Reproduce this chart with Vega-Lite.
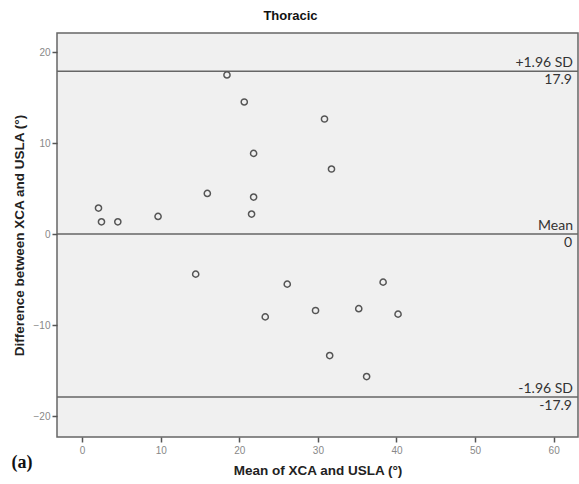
{
  "$schema": "https://vega.github.io/schema/vega-lite/v6.json",
  "width": 521,
  "height": 404,
  "autosize": {"type": "none"},
  "padding": {"left": 57, "top": 33, "right": 1, "bottom": 47},
  "background": "white",
  "config": {
    "view": {"stroke": "#666666", "strokeWidth": 1.5, "fill": "#f0f0f0"},
    "font": "Liberation Sans"
  },
  "title": {
    "text": "Thoracic",
    "anchor": "middle",
    "dx": -27,
    "offset": 10,
    "fontSize": 13,
    "fontWeight": "bold",
    "font": "Liberation Sans",
    "color": "#111111"
  },
  "datasets": {
    "points": [
      {"mean": 2.08, "diff": 2.86},
      {"mean": 2.46, "diff": 1.35},
      {"mean": 4.54, "diff": 1.35},
      {"mean": 9.66, "diff": 1.94},
      {"mean": 15.93, "diff": 4.47},
      {"mean": 18.43, "diff": 17.49},
      {"mean": 20.63, "diff": 14.52},
      {"mean": 21.82, "diff": 8.87},
      {"mean": 21.82, "diff": 4.07},
      {"mean": 21.56, "diff": 2.2},
      {"mean": 30.84, "diff": 12.65},
      {"mean": 31.73, "diff": 7.15},
      {"mean": 14.45, "diff": -4.4},
      {"mean": 26.1, "diff": -5.5},
      {"mean": 23.3, "diff": -9.1},
      {"mean": 38.3, "diff": -5.28},
      {"mean": 29.7, "diff": -8.4},
      {"mean": 35.2, "diff": -8.2},
      {"mean": 40.2, "diff": -8.8},
      {"mean": 31.5, "diff": -13.35},
      {"mean": 36.2, "diff": -15.66}
    ],
    "lines": [
      {"value": 17.9, "name": "+1.96 SD", "valueLabel": "17.9"},
      {"value": 0, "name": "Mean", "valueLabel": "0"},
      {"value": -17.9, "name": "-1.96 SD", "valueLabel": "-17.9"}
    ]
  },
  "layer": [
    {
      "data": {"name": "lines"},
      "mark": {"type": "rule", "stroke": "#666666", "strokeWidth": 1.5},
      "encoding": {
        "y": {"field": "value", "type": "quantitative", "scale": {"domain": [-22.3, 22.1], "nice": false, "zero": false}}
      }
    },
    {
      "data": {"name": "points"},
      "mark": {"type": "point", "shape": "circle", "filled": false, "stroke": "#555555", "strokeWidth": 1.5, "size": 38, "opacity": 1},
      "encoding": {
        "x": {
          "field": "mean", "type": "quantitative",
          "scale": {"domain": [-3.2, 63.1], "nice": false, "zero": false},
          "axis": {
            "title": "Mean of XCA and USLA (°)",
            "values": [0, 10, 20, 30, 40, 50, 60],
            "domain": false, "grid": false,
            "tickSize": 5, "tickColor": "#555555", "tickWidth": 1.5,
            "labelColor": "#888888", "labelFontSize": 10, "labelPadding": 3,
            "titleFontSize": 13.5, "titleFontWeight": "bold", "titleColor": "#222222",
            "titlePadding": 8
          }
        },
        "y": {
          "field": "diff", "type": "quantitative",
          "scale": {"domain": [-22.3, 22.1], "nice": false, "zero": false},
          "axis": {
            "title": "Difference between XCA and USLA (°)",
            "values": [-20, -10, 0, 10, 20],
            "domain": false, "grid": false,
            "tickSize": 5, "tickColor": "#555555", "tickWidth": 1.5,
            "labelColor": "#888888", "labelFontSize": 10, "labelPadding": 2,
            "titleFontSize": 13.5, "titleFontWeight": "bold", "titleColor": "#222222",
            "titlePadding": 7
          }
        }
      }
    },
    {
      "data": {"name": "lines"},
      "mark": {"type": "text", "align": "right", "baseline": "alphabetic", "dx": -5, "dy": -4, "font": "Lato", "fontSize": 14, "color": "#333333"},
      "encoding": {
        "x": {"datum": 63.1, "type": "quantitative"},
        "y": {"field": "value", "type": "quantitative"},
        "text": {"field": "name"}
      }
    },
    {
      "data": {"name": "lines"},
      "mark": {"type": "text", "align": "right", "baseline": "alphabetic", "dx": -6, "dy": 13, "font": "Lato", "fontSize": 14, "color": "#333333"},
      "encoding": {
        "x": {"datum": 63.1, "type": "quantitative"},
        "y": {"field": "value", "type": "quantitative"},
        "text": {"field": "valueLabel"}
      }
    },
    {
      "data": {"values": [{"label": "(a)"}]},
      "mark": {"type": "text", "align": "center", "baseline": "middle", "font": "Liberation Serif", "fontSize": 18, "fontWeight": "bold", "color": "#111111"},
      "encoding": {
        "x": {"datum": -7.66, "type": "quantitative"},
        "y": {"datum": -25.2, "type": "quantitative"},
        "text": {"field": "label"}
      }
    }
  ]
}
